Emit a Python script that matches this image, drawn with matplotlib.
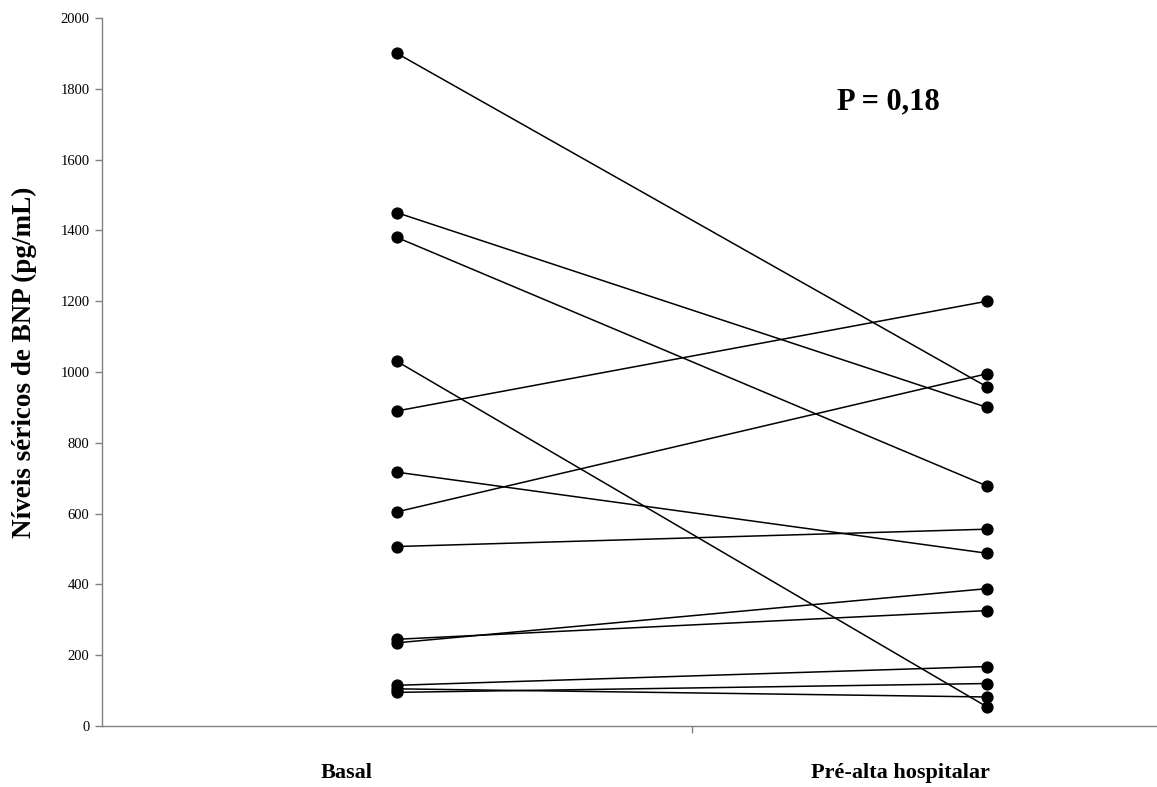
import matplotlib
matplotlib.use("Agg")
import matplotlib.pyplot as plt

categories = ["Basal", "Pré-alta hospitalar"]
basal = [1900, 1450, 1380, 1030, 890, 717, 605, 507, 245, 235, 115, 105, 95]
pre_alta = [958, 900, 678, 54, 1200, 488, 995, 556, 326, 388, 168, 82, 120]
y_ticks = [0, 200, 400, 600, 800, 1000, 1200, 1400, 1600, 1800, 2000]
p_text = "P = 0,18"
y_label = "Níveis séricos de BNP (pg/mL)"

plt.rcParams['font.family'] = ['Liberation Serif', 'DejaVu Serif']

W, H = 1157, 787
fig = plt.figure(figsize=(W / 100, H / 100), dpi=100)
ax = fig.add_axes([102 / W, 1 - 726 / H, 1180 / W, 708 / H])

xpos = [0.5, 1.5]
for b, p in zip(basal, pre_alta):
    ax.plot(xpos, [b, p], color="black", lw=1.1, marker="o", ms=7.8, mfc="black", mec="black", clip_on=False)

ax.set_xlim(0, 2)
ax.set_ylim(0, 2000)
ax.set_yticks(y_ticks)
ax.set_yticklabels([str(t) for t in y_ticks], fontsize=10.5)
ax.set_xticks([1])
ax.set_xticklabels([""])
for s in ["top", "right"]:
    ax.spines[s].set_visible(False)
for s in ["left", "bottom"]:
    ax.spines[s].set_color("#808080")
    ax.spines[s].set_linewidth(1.0)
ax.tick_params(axis="both", direction="out", length=5, color="#808080", width=1.0)
ax.tick_params(axis="y", pad=4)

fig.text(24 / W, 1 - 362 / H, y_label, rotation=90, ha="center", va="center",
         fontsize=19.5, fontweight="bold")
fig.text(347 / W, 1 - 773 / H, categories[0], ha="center", va="center", fontsize=16, fontweight="bold")
fig.text(900 / W, 1 - 773 / H, categories[1], ha="center", va="center", fontsize=16, fontweight="bold")
fig.text(888 / W, 1 - 102 / H, p_text, ha="center", va="center", fontsize=22, fontweight="bold")

fig.savefig("out.png", dpi=100)
